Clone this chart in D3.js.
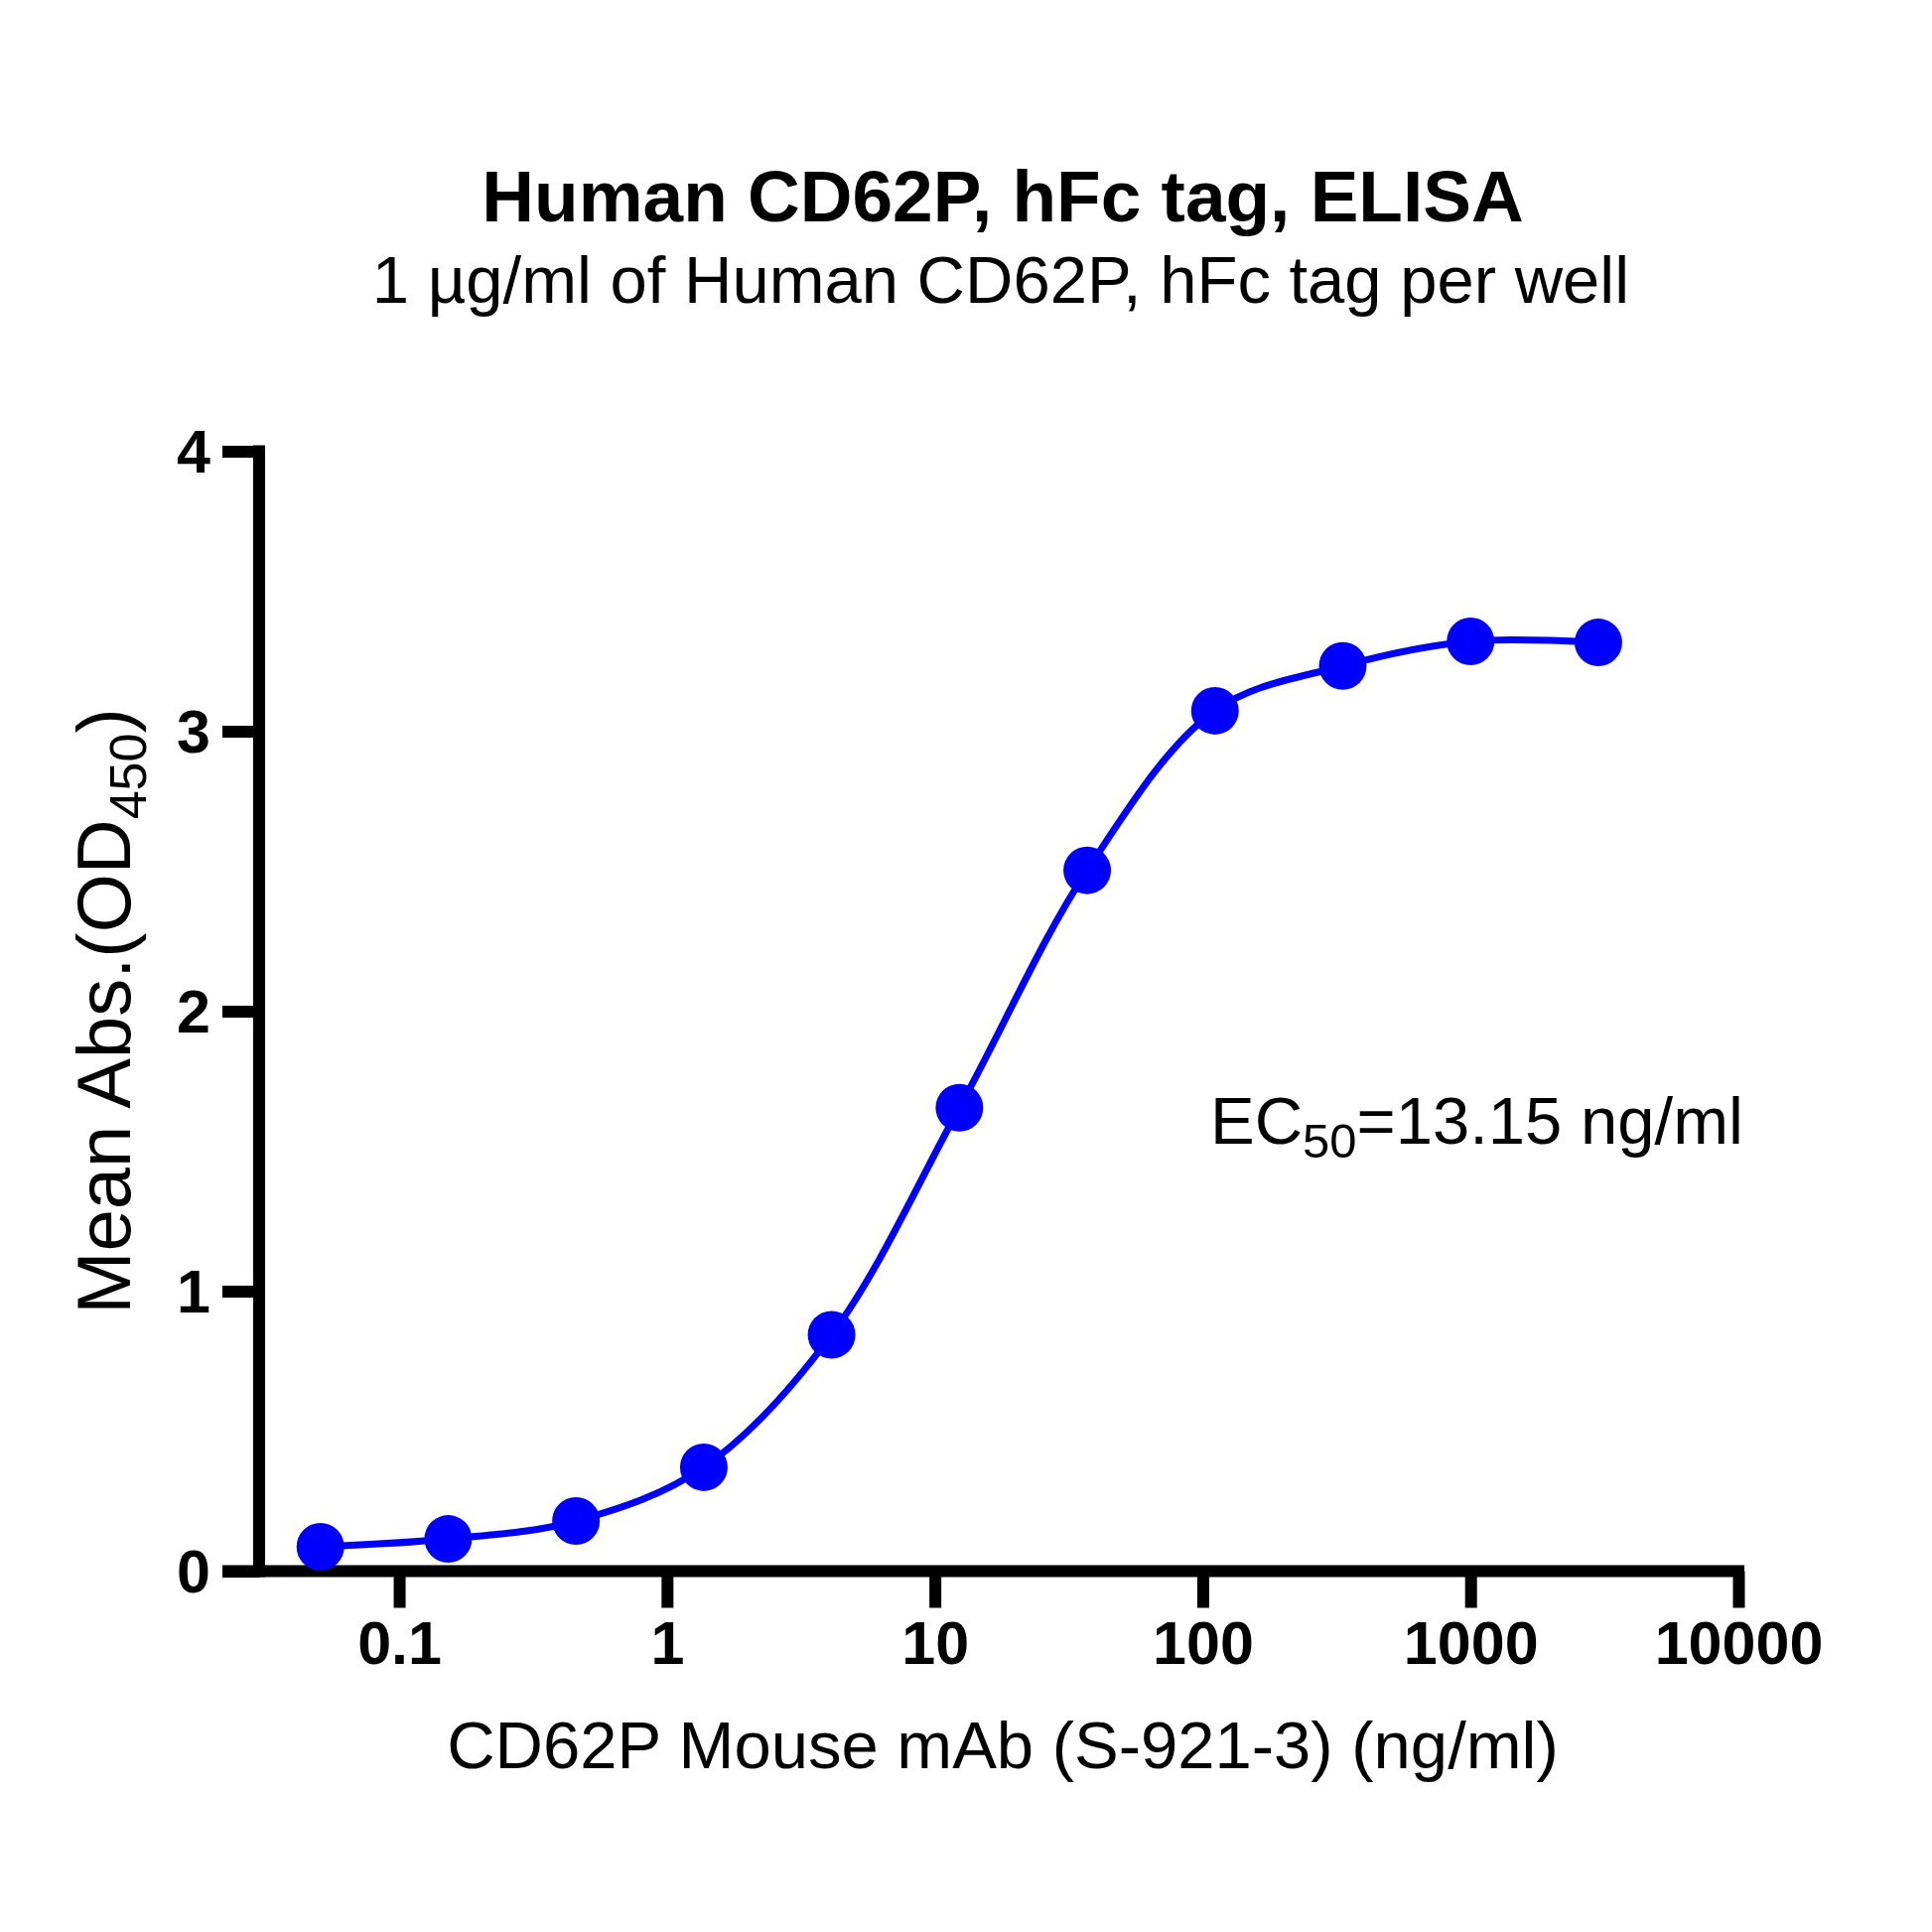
<!DOCTYPE html>
<html>
<head>
<meta charset="utf-8">
<script src="https://cdn.jsdelivr.net/npm/d3@7"></script>
<style>
  html, body { margin: 0; padding: 0; background: #fff; }
  text { font-family: "Liberation Sans", Arial, sans-serif; fill: #000; }
</style>
</head>
<body>
<div id="chart"></div>
<script>
// mAb concentration (ng/ml), 3-fold dilution series
const concentrations = [0.0508, 0.1524, 0.4572, 1.372, 4.115, 12.35, 37.04, 111.1, 333.3, 1000, 3000];
// mean absorbance at 450 nm
const meanAbs = [0.087, 0.115, 0.179, 0.371, 0.844, 1.655, 2.503, 3.073, 3.233, 3.321, 3.317];

const xTicks = [0.1, 1, 10, 100, 1000, 10000];
const yTicks = [0, 1, 2, 3, 4];

const titleText = "Human CD62P, hFc tag, ELISA";
const subtitleText = "1 \u00b5g/ml of Human CD62P, hFc tag per well";
const xLabelText = "CD62P Mouse mAb (S-921-3) (ng/ml)";
const ec50Text = "=13.15 ng/ml";

const W = 1946, H = 1946;
const tickLen = 37;
const axisW = 12;
const blue = "#0000ff";

const svg = d3.select("#chart")
  .append("svg")
  .attr("width", W)
  .attr("height", H);

svg.append("rect").attr("width", W).attr("height", H).attr("fill", "#fff");

const x = d3.scaleLog()
  .domain([0.03, 10000])
  .range([261, 1751]);

const y = d3.scaleLinear()
  .domain([0, 4])
  .range([1582.5, 454.5]);

const data = concentrations.map((c, i) => ({ conc: c, abs: meanAbs[i] }));

// y axis
const yAxis = svg.append("g")
  .attr("transform", `translate(${x.range()[0]},0)`)
  .call(d3.axisLeft(y).tickValues(yTicks).tickSize(tickLen).tickSizeOuter(0).tickPadding(12).tickFormat(d3.format("d")));
yAxis.select(".domain").remove();
yAxis.selectAll(".tick line").attr("stroke", "#000").attr("stroke-width", axisW);
yAxis.selectAll(".tick text")
  .style("font-family", '"Liberation Sans", Arial, sans-serif')
  .style("font-size", "61px")
  .style("font-weight", "bold")
  .attr("dy", "0.35em");

// x axis
const xAxis = svg.append("g")
  .attr("transform", `translate(0,${y(0)})`)
  .call(d3.axisBottom(x).tickValues(xTicks).tickSize(tickLen).tickSizeOuter(0).tickPadding(13).tickFormat(d => String(d)));
xAxis.select(".domain").remove();
xAxis.selectAll(".tick line").attr("stroke", "#000").attr("stroke-width", axisW);
xAxis.selectAll(".tick text")
  .style("font-family", '"Liberation Sans", Arial, sans-serif')
  .style("font-size", "61px")
  .style("font-weight", "bold");

// axis lines
svg.append("line")
  .attr("x1", x.range()[0]).attr("x2", x.range()[0])
  .attr("y1", y(4) - axisW / 2).attr("y2", y(0) + axisW / 2)
  .attr("stroke", "#000").attr("stroke-width", axisW);
svg.append("line")
  .attr("x1", x.range()[0] - tickLen).attr("x2", x.range()[1] + axisW / 2)
  .attr("y1", y(0)).attr("y2", y(0))
  .attr("stroke", "#000").attr("stroke-width", axisW);

// smooth curve through the points
const line = d3.line()
  .x(d => x(d.conc))
  .y(d => y(d.abs))
  .curve(d3.curveCatmullRom.alpha(0.5));

svg.append("path")
  .datum(data)
  .attr("d", line)
  .attr("fill", "none")
  .attr("stroke", blue)
  .attr("stroke-width", 7);

svg.append("g")
  .selectAll("circle")
  .data(data)
  .join("circle")
  .attr("cx", d => x(d.conc))
  .attr("cy", d => y(d.abs))
  .attr("r", 24)
  .attr("fill", blue);

// titles
svg.append("text")
  .attr("x", 1010).attr("y", 223)
  .attr("text-anchor", "middle")
  .style("font-size", "73px")
  .style("font-weight", "bold")
  .text(titleText);

svg.append("text")
  .attr("x", 1008).attr("y", 305)
  .attr("text-anchor", "middle")
  .style("font-size", "67px")
  .text(subtitleText);

// x label
svg.append("text")
  .attr("x", 1010).attr("y", 1781)
  .attr("text-anchor", "middle")
  .style("font-size", "67px")
  .text(xLabelText);

// y label
const yLabel = svg.append("text")
  .attr("transform", `translate(131,${(y(0) + y(4)) / 2}) rotate(-90)`)
  .attr("text-anchor", "middle")
  .style("font-size", "76px");
yLabel.append("tspan").text("Mean Abs.(OD");
yLabel.append("tspan").attr("dy", 16).style("font-size", "52px").text("450");
yLabel.append("tspan").attr("dy", -16).text(")");

// EC50 note
const ec = svg.append("text")
  .attr("x", 1219).attr("y", 1152)
  .style("font-size", "67px");
ec.append("tspan").text("EC");
ec.append("tspan").attr("dy", 14).style("font-size", "49px").text("50");
ec.append("tspan").attr("dy", -14).text(ec50Text);
</script>
</body>
</html>
